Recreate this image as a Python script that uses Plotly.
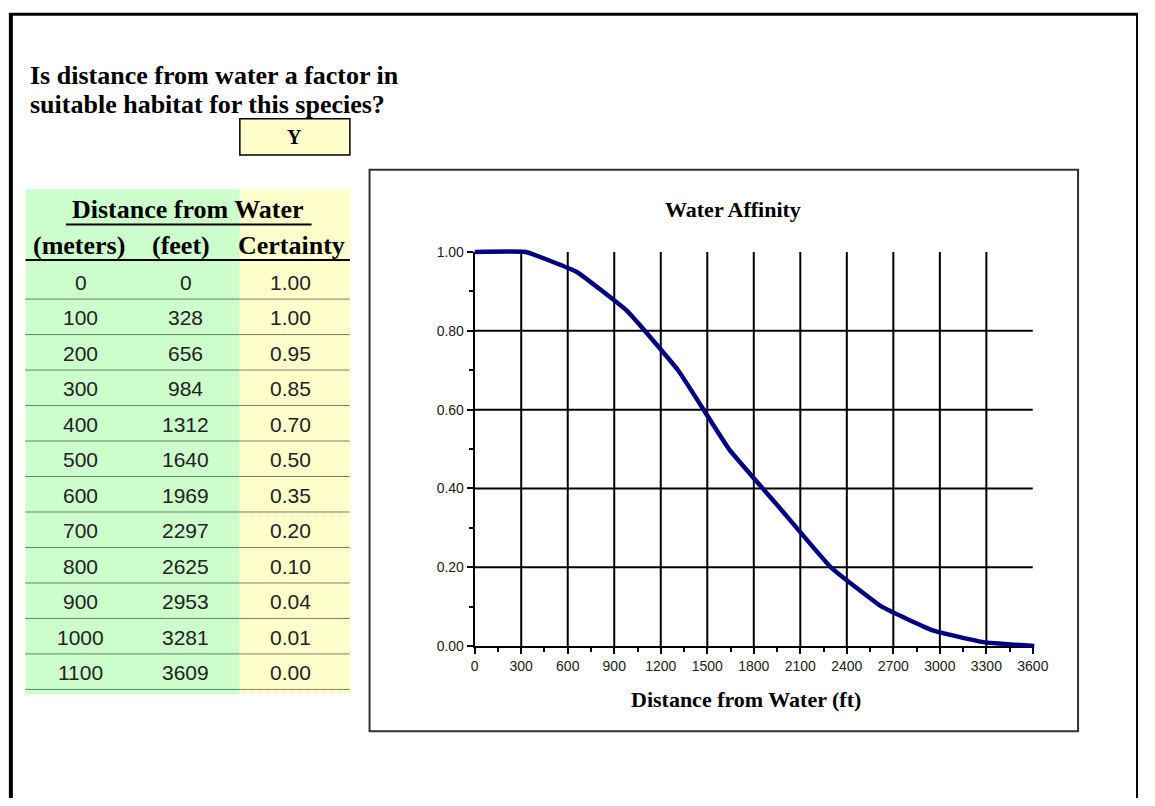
import plotly.graph_objects as go

# ---------------- data ----------------
meters = [0, 100, 200, 300, 400, 500, 600, 700, 800, 900, 1000, 1100]
feet = [0, 328, 656, 984, 1312, 1640, 1969, 2297, 2625, 2953, 3281, 3609]
certainty = [1.00, 1.00, 0.95, 0.85, 0.70, 0.50, 0.35, 0.20, 0.10, 0.04, 0.01, 0.00]
x_ticks = [0, 300, 600, 900, 1200, 1500, 1800, 2100, 2400, 2700, 3000, 3300, 3600]
y_ticks = [0.0, 0.2, 0.4, 0.6, 0.8, 1.0]
y_tick_text = ["0.00", "0.20", "0.40", "0.60", "0.80", "1.00"]
question_lines = ["Is distance from water a factor in", "suitable habitat for this species?"]
answer = "Y"
table_title = "Distance from Water"
col_headers = ["(meters)", "(feet)", "Certainty"]
chart_title = "Water Affinity"
x_title = "Distance from Water (ft)"

# ---------------- layout helpers ----------------
W, H = 1155, 806
SERIF = "Liberation Serif"
SANS = "Liberation Sans"


def px(x):
    return x / W


def py(y):
    return 1 - y / H


# plot area in pixels
PX0, PX1 = 479, 1047
PY1, PY0 = 249, 651   # value 1.0 at top, 0.0 at bottom
XMAX = 3600
PAD = 6

shapes = []
annotations = []

# outer frame
shapes.append(dict(type="line", xref="paper", yref="paper", x0=px(7), x1=px(7), y0=py(5), y1=py(806),
                   line=dict(color="black", width=4), layer="above"))
shapes.append(dict(type="line", xref="paper", yref="paper", x0=px(5), x1=px(1154), y0=py(6.5), y1=py(6.5),
                   line=dict(color="black", width=3), layer="above"))
shapes.append(dict(type="line", xref="paper", yref="paper", x0=px(1153), x1=px(1153), y0=py(5), y1=py(806),
                   line=dict(color="black", width=2), layer="above"))

# question text + answer box
for i, t in enumerate(question_lines):
    annotations.append(dict(text=t, x=px(25), y=py(69 + 29 * i), xref="paper", yref="paper",
                            xanchor="left", yanchor="middle", showarrow=False, borderpad=0,
                            font=dict(family=SERIF, size=26, color="black", weight="bold")))
shapes.append(dict(type="rect", xref="paper", yref="paper", x0=px(240), x1=px(352), y0=py(113), y1=py(150),
                   fillcolor="#FFFFCC", line=dict(color="black", width=1.5), layer="below"))
annotations.append(dict(text=answer, x=px(296), y=py(131.5), xref="paper", yref="paper",
                        xanchor="center", yanchor="middle", showarrow=False,
                        font=dict(family=SERIF, size=20, color="black", weight="bold")))

# table background
TOP, BOT = 185, 700
shapes.append(dict(type="rect", xref="paper", yref="paper", x0=px(22), x1=px(240), y0=py(TOP), y1=py(BOT),
                   fillcolor="#CCFFCC", line=dict(width=0), layer="below"))
shapes.append(dict(type="rect", xref="paper", yref="paper", x0=px(240), x1=px(352), y0=py(TOP), y1=py(BOT),
                   fillcolor="#FFFFCC", line=dict(width=0), layer="below"))

# table headers
annotations.append(dict(text=table_title, x=px(187), y=py(206), xref="paper", yref="paper",
                        xanchor="center", yanchor="middle", showarrow=False,
                        font=dict(family=SERIF, size=26, color="black", weight="bold")))
shapes.append(dict(type="line", xref="paper", yref="paper", x0=px(63), x1=px(313), y0=py(221), y1=py(221),
                   line=dict(color="black", width=2)))
col_x = [76, 180, 293]
for cx, t in zip(col_x, col_headers):
    annotations.append(dict(text=t, x=px(cx), y=py(242), xref="paper", yref="paper",
                            xanchor="center", yanchor="middle", showarrow=False,
                            font=dict(family=SERIF, size=26, color="black", weight="bold")))
shapes.append(dict(type="line", xref="paper", yref="paper", x0=px(22), x1=px(352), y0=py(257), y1=py(257),
                   line=dict(color="black", width=2)))

# table rows
ROW0, PITCH = 280, 36.2
num_x = [78, 185, 292]
for i, (m, f, c) in enumerate(zip(meters, feet, certainty)):
    yc = ROW0 + PITCH * i
    for cx, val in zip(num_x, [str(m), str(f), f"{c:.2f}"]):
        annotations.append(dict(text=val, x=px(cx), y=py(yc), xref="paper", yref="paper",
                                xanchor="center", yanchor="middle", showarrow=False,
                                font=dict(family=SANS, size=21, color="#222222")))
    shapes.append(dict(type="line", xref="paper", yref="paper", x0=px(22), x1=px(352),
                       y0=py(yc + 17), y1=py(yc + 17),
                       line=dict(color="black", width=1, dash="1px,1px")))

# chart box
shapes.append(dict(type="rect", xref="paper", yref="paper", x0=px(372), x1=px(1093), y0=py(165), y1=py(738),
                   fillcolor="white", line=dict(color="#333333", width=2), layer="below"))
annotations.append(dict(text=chart_title, x=px(742), y=py(206), xref="paper", yref="paper",
                        xanchor="center", yanchor="middle", showarrow=False,
                        font=dict(family=SERIF, size=22, color="black", weight="bold")))
annotations.append(dict(text=x_title, x=px(755), y=py(706), xref="paper", yref="paper",
                        xanchor="center", yanchor="middle", showarrow=False,
                        font=dict(family=SERIF, size=22, color="black", weight="bold")))

# grid lines (in data coords)
for xv in x_ticks[1:-1]:
    shapes.append(dict(type="line", xref="x", yref="y", x0=xv, x1=xv, y0=0, y1=1,
                       line=dict(color="black", width=2), layer="below"))
for yv in y_ticks[1:-1]:
    shapes.append(dict(type="line", xref="x", yref="y", x0=0, x1=XMAX, y0=yv, y1=yv,
                       line=dict(color="black", width=2), layer="below"))

fig = go.Figure()
fig.add_trace(go.Scatter(x=feet, y=certainty, mode="lines", xaxis="x2", yaxis="y2",
                         line=dict(color="#000080", width=4.5, shape="spline", smoothing=0.3),
                         hoverinfo="x+y", showlegend=False))

xdom = [px(PX0), px(PX1)]
ydom = [py(PY0), py(PY1)]
xscale = XMAX / (PX1 - PX0)
yscale = 1.0 / (PY0 - PY1)

tickfont = dict(family=SANS, size=14, color="#222222")
fig.update_layout(
    width=W, height=H,
    margin=dict(l=0, r=0, t=0, b=0),
    paper_bgcolor="white", plot_bgcolor="rgba(0,0,0,0)",
    showlegend=False,
    xaxis=dict(domain=xdom, range=[0, XMAX], tickvals=x_ticks, ticks="outside", ticklen=6,
               tickwidth=2, tickcolor="black", showline=True, linewidth=2, linecolor="black",
               showgrid=False, zeroline=False, tickfont=tickfont, anchor="y",
               minor=dict(dtick=150, tick0=0, ticks="outside", ticklen=4, tickwidth=1.5,
                          tickcolor="black", showgrid=False)),
    yaxis=dict(domain=ydom, range=[0, 1], tickvals=y_ticks, ticktext=y_tick_text, ticks="outside",
               ticklen=6, tickwidth=2, tickcolor="black", showline=True, linewidth=2,
               linecolor="black", showgrid=False, zeroline=False, tickfont=tickfont, anchor="x",
               minor=dict(dtick=0.1, tick0=0, ticks="outside", ticklen=4, tickwidth=1.5,
                          tickcolor="black", showgrid=False)),
    xaxis2=dict(domain=[px(PX0 - PAD), px(PX1 + PAD)], range=[-PAD * xscale, XMAX + PAD * xscale],
                visible=False, anchor="y2"),
    yaxis2=dict(domain=[py(PY0 + PAD), py(PY1 - PAD)], range=[-PAD * yscale, 1 + PAD * yscale],
                visible=False, anchor="x2"),
    shapes=shapes,
    annotations=annotations,
)

fig.write_html("out.html")
